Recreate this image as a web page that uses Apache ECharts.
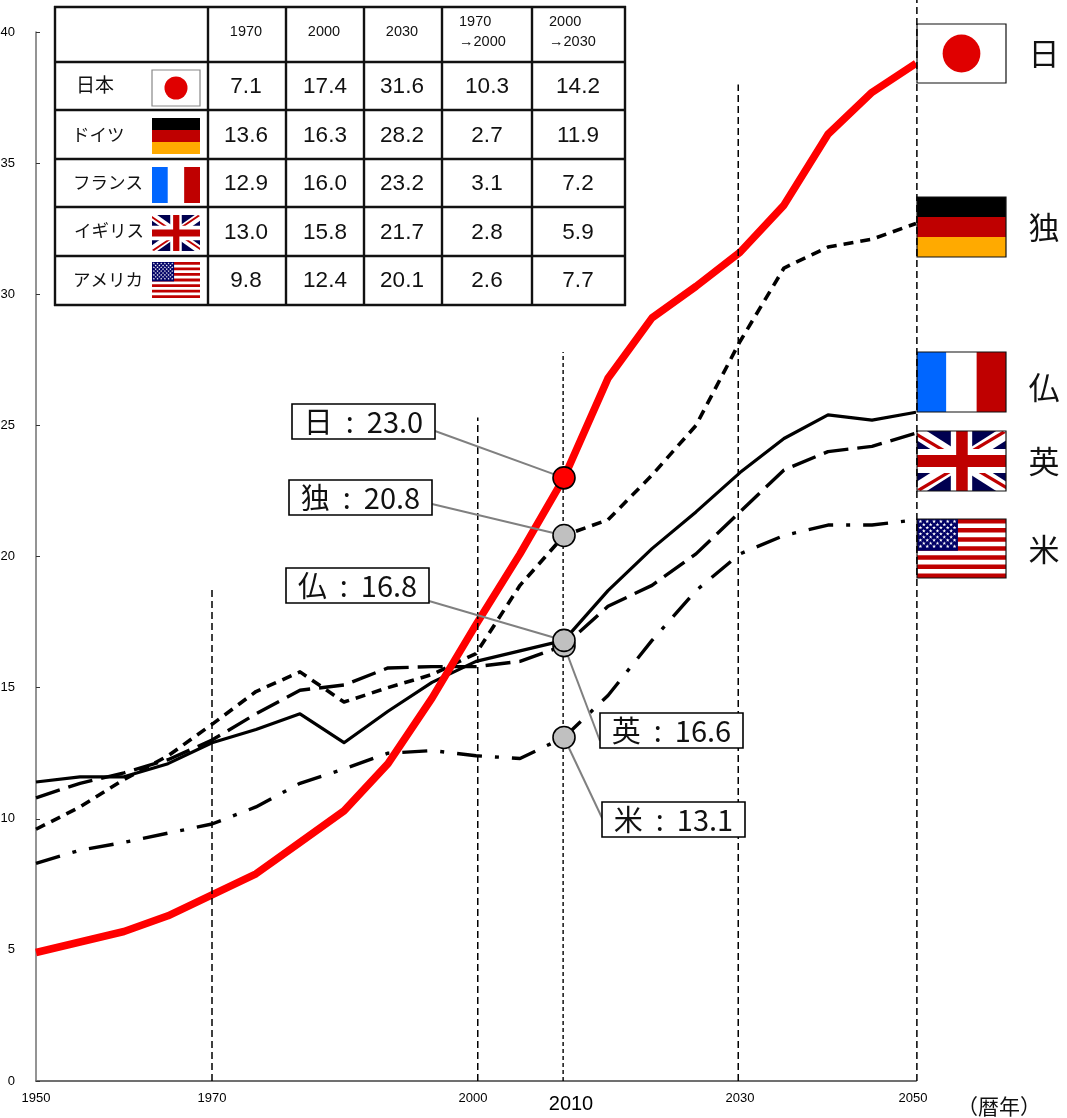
<!DOCTYPE html>
<html lang="ja">
<head>
<meta charset="utf-8">
<style>html,body{margin:0;padding:0;background:#fff}#chart{width:1067px;height:1118px}</style>
<script src="https://cdn.jsdelivr.net/npm/echarts@6/dist/echarts.min.js"></script>
</head>
<body>
<div id="chart"></div>
<script>
// Share of population aged 65 and over (%), 1950-2050, five-year steps
const years = [1950,1955,1960,1965,1970,1975,1980,1985,1990,1995,2000,2005,2010,2015,2020,2025,2030,2035,2040,2045,2050];
const japan   = [4.9,5.3,5.7,6.3,7.1,7.9,9.1,10.3,12.1,14.6,17.4,20.1,23.0,26.8,29.1,30.3,31.6,33.4,36.1,37.7,38.8];
const germany = [9.6,10.45,11.5,12.4,13.6,14.85,15.6,14.45,15.0,15.5,16.3,18.9,20.8,21.4,23.1,25.0,28.2,31.0,31.8,32.1,32.7];
const france  = [11.4,11.6,11.6,12.1,12.9,13.4,14.0,12.9,14.1,15.2,16.0,16.4,16.8,18.7,20.3,21.7,23.2,24.5,25.4,25.2,25.5];
const uk      = [10.8,11.35,11.75,12.25,13.0,14.0,14.9,15.1,15.75,15.8,15.8,16.0,16.6,18.1,18.9,20.1,21.7,23.3,24.0,24.2,24.7];
const usa     = [8.3,8.8,9.1,9.45,9.8,10.45,11.35,11.9,12.5,12.6,12.4,12.3,13.1,14.7,16.8,18.7,20.1,20.8,21.2,21.2,21.4];

// Vertical reference years and how high each guide reaches
const guideYears = [1970,2000.2,2009.9,2029.8,2050.1];
const guideTops  = [18.8,25.3,27.8,38.0,41.3];
const guideThin  = [false,false,true,false,false];

const xTickYears = [1950,1970,2000,2010,2030,2050];

// Summary table
const tableHeaders = ['1970','2000','2030'];
const tableChangeHeaders = [['1970','→2000'],['2000','→2030']];
const tableNames = ['日本','ドイツ','フランス','イギリス','アメリカ'];
const tableFlags = ['jp','de','fr','uk','us'];
const rowJapan   = ['7.1','17.4','31.6','10.3','14.2'];
const rowGermany = ['13.6','16.3','28.2','2.7','11.9'];
const rowFrance  = ['12.9','16.0','23.2','3.1','7.2'];
const rowUk      = ['13.0','15.8','21.7','2.8','5.9'];
const rowUsa     = ['9.8','12.4','20.1','2.6','7.7'];
const tableRows = [rowJapan,rowGermany,rowFrance,rowUk,rowUsa];

// Country tags for the 2010 callouts and the flag column
const tagNames = ['日','独','仏','英','米'];
const tagFlags = ['jp','de','fr','uk','us'];
const tagValues = [23.0,20.8,16.8,16.6,13.1];

const FONT_CJK = '"Noto Sans CJK JP","Liberation Sans",sans-serif';
const FONT_LATIN = '"Liberation Sans",Arial,sans-serif';
const INK = '#000';

const pairs = arr => arr.map((v,i)=>[years[i],v]);

function lineSeries(name,data,color,width,type){
  return {name,type:'line',data:pairs(data),symbol:'none',smooth:false,z:3,clip:false,
    lineStyle:{color,width,type,cap:'butt',join:'round'},emphasis:{disabled:true}};
}

const series = [
  lineSeries('アメリカ',usa,INK,3.4,[25,13,4,13]),
  lineSeries('イギリス',uk,INK,3.4,[25,9]),
  lineSeries('フランス',france,INK,3.2,'solid'),
  lineSeries('ドイツ',germany,INK,3.6,[10,7]),
  lineSeries('日本',japan,'#ff0000',7.5,'solid')
];
guideYears.forEach((yr,i)=>{
  series.push({type:'line',data:[[yr,0],[yr,guideTops[i]]],symbol:'none',clip:false,z:4,silent:true,
    lineStyle:{color:INK,width:guideThin[i]?1.4:1.5,type:guideThin[i]?[4,3]:[7,4]}});
});
// Markers on the 2010 guide; Britain sits under France
series.push({type:'scatter',z:6,symbol:'circle',symbolSize:22,clip:false,silent:true,
  data:[
    {value:[2010,uk[12]],itemStyle:{color:'#c0c0c0'}},
    {value:[2010,usa[12]],itemStyle:{color:'#c0c0c0'}},
    {value:[2010,france[12]],itemStyle:{color:'#c0c0c0'}},
    {value:[2010,germany[12]],itemStyle:{color:'#c0c0c0'}},
    {value:[2010,japan[12]],itemStyle:{color:'#ff0000'}}
  ],
  itemStyle:{borderColor:INK,borderWidth:1.6,opacity:1}
});

const option = {
  animation:false,
  backgroundColor:'#fff',
  grid:{left:36,top:32,width:880,height:1049,containLabel:false,outerBoundsMode:'none'},
  xAxis:{type:'value',min:1950,max:2050,
    axisLine:{show:true,onZero:false,lineStyle:{color:'#707070',width:2}},
    axisTick:{show:false},splitLine:{show:false},
    axisLabel:{customValues:xTickYears,margin:11,fontFamily:FONT_LATIN,fontSize:13,color:INK,
      showMinLabel:true,showMaxLabel:true,hideOverlap:false,
      formatter:v=>v===2010?'{big|2010}':v===2000?'{l|2000}':v===2050?'{e|2050}':String(v),
      rich:{
        big:{fontSize:20,fontFamily:FONT_LATIN,color:INK,padding:[2,0,0,14]},
        l:{fontSize:13,fontFamily:FONT_LATIN,color:INK,padding:[0,6,0,0]},
        e:{fontSize:13,fontFamily:FONT_LATIN,color:INK,padding:[0,6,0,0]}
      }}
  },
  yAxis:{type:'value',min:0,max:40,interval:5,
    axisLine:{show:true,onZero:false,lineStyle:{color:'#707070',width:1.5}},
    axisTick:{show:true,inside:true,length:4,lineStyle:{color:'#333',width:1}},
    splitLine:{show:false},
    axisLabel:{margin:21,fontFamily:FONT_LATIN,fontSize:13,color:INK}
  },
  series
};

// ---------- flags ----------
function flag(kind,x,y,w,h,z,border){
  const out=[];
  const rect=(fx,fy,fw,fh,fill)=>out.push({type:'rect',z,silent:true,
    shape:{x:x+fx*w,y:y+fy*h,width:fw*w,height:fh*h},style:{fill}});
  const poly=(pts,fill)=>out.push({type:'polygon',z,silent:true,
    shape:{points:pts.map(p=>[x+p[0]*w,y+p[1]*h])},style:{fill}});
  if(kind==='jp'){
    rect(0,0,1,1,'#fff');
    const r=h*0.32;
    out.push({type:'circle',z,silent:true,shape:{cx:x+w/2,cy:y+h/2,r},style:{fill:'#e00000'}});
  }else if(kind==='de'){
    rect(0,0,1,1/3,'#000');rect(0,1/3,1,1/3,'#bf0000');rect(0,2/3,1,1/3,'#ffaa00');
  }else if(kind==='fr'){
    rect(0,0,.33,1,'#0066ff');rect(.33,0,.34,1,'#fff');rect(.67,0,.33,1,'#bf0000');
  }else if(kind==='uk'){
    rect(0,0,1,1,'#000050');
    poly([[0,0],[.11,0],[1,.84],[1,1],[.89,1],[0,.16]],'#fff');
    poly([[1,0],[.89,0],[0,.84],[0,1],[.11,1],[1,.16]],'#fff');
    poly([[0,.03],[.34,.33],[.27,.33],[0,.09]],'#bf0000');
    poly([[1,.97],[.66,.67],[.73,.67],[1,.91]],'#bf0000');
    poly([[1,.03],[.66,.33],[.59,.33],[.96,0]],'#bf0000');
    poly([[0,.97],[.34,.67],[.41,.67],[.04,1]],'#bf0000');
    rect(.38,0,.24,1,'#fff');rect(0,.3,1,.4,'#fff');
    rect(.44,0,.13,1,'#bf0000');rect(0,.4,1,.2,'#bf0000');
  }else if(kind==='us'){
    rect(0,0,1,1,'#fff');
    for(let i=0;i<13;i+=2) rect(0,i/13,1,1/13,'#bf0000');
    rect(0,0,.46,7/13,'#000066');
    const R=h*0.03;
    for(let r=0;r<9;r++){
      const n=r%2?5:6;
      for(let c=0;c<n;c++){
        const cx=x+w*.46*((c+(r%2?1:.5))/6),cy=y+h*(7/13)*((r+.8)/10.2),pts=[];
        for(let k=0;k<10;k++){
          const a=-Math.PI/2+k*Math.PI/5,rad=k%2?R*.45:R*1.15;
          pts.push([cx+rad*Math.cos(a),cy+rad*Math.sin(a)]);
        }
        out.push({type:'polygon',z,silent:true,shape:{points:pts},style:{fill:'#fff'}});
      }
    }
  }
  if(border) out.push({type:'rect',z,silent:true,shape:{x,y,width:w,height:h},
    style:{fill:'none',stroke:border,lineWidth:1.2}});
  return out;
}

// ---------- summary table ----------
function summaryTable(){
  const xs=[55,208,286,364,442,532,625], ys=[7,62,110,159,207,256,305];
  const els=[];
  const label=(text,x,y,size,align,family)=>els.push({type:'text',z:7,silent:true,x,y,
    style:{text,fontSize:size,fontFamily:family,fill:'#111',textAlign:align,textVerticalAlign:'middle'}});
  xs.forEach(x=>els.push({type:'line',z:7,silent:true,shape:{x1:x,y1:ys[0]-1,x2:x,y2:ys[6]+1},style:{stroke:'#111',lineWidth:2.4}}));
  ys.forEach(y=>els.push({type:'line',z:7,silent:true,shape:{x1:xs[0]-1,y1:y,x2:xs[6]+1,y2:y},style:{stroke:'#111',lineWidth:2.4}}));
  const headerX=[246,324,402];
  tableHeaders.forEach((t,i)=>label(t,headerX[i],32,14.5,'center',FONT_LATIN));
  const changeX=[459,549];
  tableChangeHeaders.forEach((pair,i)=>{
    label(pair[0],changeX[i],22,14.5,'left',FONT_LATIN);
    label(pair[1],changeX[i],42,14.5,'left',FONT_LATIN);
  });
  const cellX=[246,325,402,487,578], cellY=[87,136,184,233,281];
  const nameX=[76,72,73,74,73], nameY=[85,134,182,230,279];
  const flagY=[70,118,167,215,262];
  tableRows.forEach((row,r)=>{
    label(tableNames[r],nameX[r],nameY[r],r===0?19:17.5,'left',FONT_CJK);
    flag(tableFlags[r],152,flagY[r],48,36,7,r===0?'#888':null).forEach(e=>els.push(e));
    row.forEach((v,c)=>label(v,cellX[c],cellY[r],22.5,'center',FONT_LATIN));
  });
  return els;
}

// ---------- flag column on the right ----------
function flagColumn(){
  const els=[];
  const y=[24,197,352,431,519], h=[59,60,60,60,59], labelY=[53,227,387,461,549];
  tagFlags.forEach((k,i)=>{
    flag(k,917,y[i],89,h[i],1,'#111').forEach(e=>els.push(e));
    els.push({type:'text',z:7,silent:true,x:1044,y:labelY[i],
      style:{text:tagNames[i],fontSize:31,fontFamily:FONT_CJK,fill:'#111',textAlign:'center',textVerticalAlign:'middle'}});
  });
  els.push({type:'text',z:7,silent:true,x:999,y:1106,
    style:{text:'（暦年）',fontSize:21,fontFamily:FONT_CJK,fill:'#111',textAlign:'center',textVerticalAlign:'middle'}});
  return els;
}

// ---------- 2010 callouts: box, value text and a leader to the marker ----------
function callouts(chart){
  const boxes=[[292,404],[289,480],[286,568],[600,713],[602,802]];
  const anchors=[[435,431],[432,504],[429,601],[600,741],[603,820]];
  const els=[];
  tagValues.forEach((v,i)=>{
    const [bx,by]=boxes[i];
    const p=chart.convertToPixel({xAxisIndex:0,yAxisIndex:0},[2010,v]);
    els.push({type:'line',z:5,silent:true,
      shape:{x1:anchors[i][0],y1:anchors[i][1],x2:p[0],y2:p[1]},style:{stroke:'#808080',lineWidth:2}});
    els.push({type:'rect',z:7,silent:true,shape:{x:bx,y:by,width:143,height:35},
      style:{fill:'#fff',stroke:'#000',lineWidth:1.6}});
    els.push({type:'text',z:8,silent:true,x:bx+71.5,y:by+18,
      style:{text:tagNames[i]+'  :  '+v.toFixed(1),fontSize:29,fontFamily:FONT_CJK,fill:'#111',
        textAlign:'center',textVerticalAlign:'middle'}});
  });
  return els;
}

const chart = echarts.init(document.getElementById('chart'),null,{width:1067,height:1118});
chart.setOption(option);
chart.setOption({graphic:{elements:[...flagColumn(),...summaryTable(),...callouts(chart)]}});
</script>
</body>
</html>
